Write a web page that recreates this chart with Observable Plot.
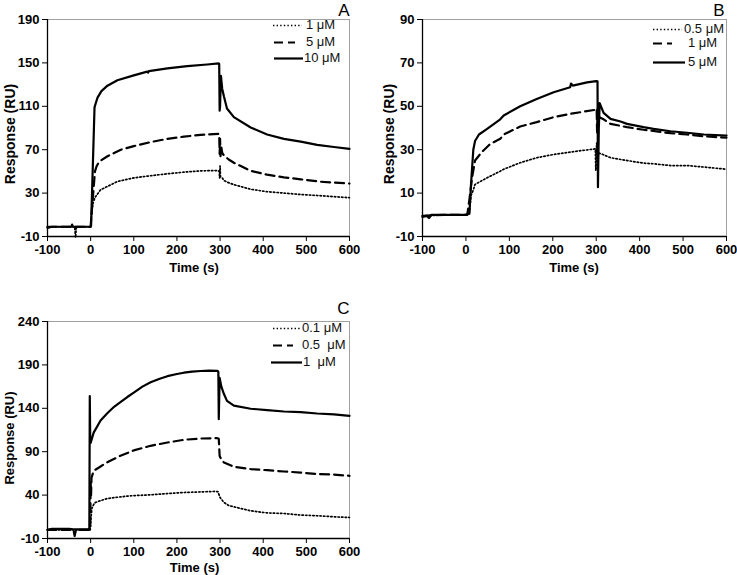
<!DOCTYPE html>
<html><head><meta charset="utf-8">
<script src="https://cdn.jsdelivr.net/npm/d3@7"></script>
<script src="https://cdn.jsdelivr.net/npm/@observablehq/plot@0.6"></script>
<style>
body{margin:0;background:#fff;}
#wrap{position:relative;width:737px;height:575px;overflow:hidden;font-family:"Liberation Sans",Arial,sans-serif;}
.panel{position:absolute;}
.leg{position:absolute;font-size:13px;color:#111;white-space:pre;line-height:16px;height:16px;}
.leg svg{position:absolute;left:0;top:0;}
.leg span{position:absolute;top:0;}
.albl{position:absolute;font-weight:bold;color:#000;white-space:nowrap;line-height:1;transform:translate(-50%,-50%);}
.albl.rot{transform:translate(-50%,-50%) rotate(-90deg);}
</style></head><body><div id="wrap"></div>
<script>
// ---- shared axes ----
const xTicks = [-100, 0, 100, 200, 300, 400, 500, 600];
const xLabel = "Time (s)";
const yLabel = "Response (RU)";

// ---- Panel A ----
const aYTicks = [-10, 30, 70, 110, 150, 190];
const aLegend = ["1 μM", "5 μM", "10 μM"];
const aT1 = [-100,-80,-50,-37,-35,-33,0,2,5,10,23,62,100,139,178,216,255,295,298,299,300,301,305,309,317,332,371,409,448,487,525,564,600];
const aV1 = [-1,-1,-1,-1,-11,-1,-1,10,20,26,33,40.7,44,46,47.8,49.3,50.5,50.8,50,44,55,45,44,41.6,40,37.8,33.5,31.3,30,28.7,27.8,26.7,25.7];
const aT5 = [-100,-60,0,1,7,10,14,20,39,70,100,139,178,216,255,297,298,299,300,301,303,305,309,320,332,371,409,448,487,533,564,600];
const aV5 = [-1,-1,-1,5,35,50,55,59,64,70,73.3,77,80,82,83.7,84.6,84,66,80,64,72,67,64.7,61,58,50.5,47,44.5,42.7,40.5,39.7,38.8];
const aT10 = [-100,-90,-60,-45,-43,-41,0,1,9,12,16,25,39,62,100,131,133,135,178,224,270,297,298,299,300,302,305,309,316,332,371,409,448,487,525,564,600];
const aV10 = [-2,-1,-1,-1,1,-1,-1,0,109,113,118,124,129,134,138.5,142,141,142.5,145,147,148.5,149.5,149,106,110,138,126,119,108,100,90.5,84,80,77.5,74.5,72.5,70.8];

// ---- Panel B ----
const bYTicks = [-10, 10, 30, 50, 70, 90];
const bLegend = ["0.5 μM", "1 μM", "5 μM"];
const bT05 = [-100,-50,0,8,12,17,21,48,79,87,125,163,202,240,298,299,301,303,305,313,333,371,409,432,471,509,548,600];
const bV05 = [-0.5,0,0,1,9,11.5,14,17,20.1,21,24,26.3,27.8,28.9,30.4,20.4,33,21,28.5,28,26.3,25,23.8,23.5,22.7,22.7,22,21];
const bT1 = [-100,-50,0,3,8,14,21,37,56,79,87,125,163,202,240,298,301,302,304,307,317,333,371,409,471,509,548,600];
const bV1 = [-0.5,0,0,0,7,17,25,29,32.7,35,37,40.7,42.7,45,46.5,48.4,49,38,49.6,45,44,41.9,40.4,39.2,37.6,37,36.2,35.5];
const bT5 = [-100,-90,-85,-80,-50,0,8,12,17,21,30,48,79,87,125,163,202,240,242,246,279,300,303,304,306,308,317,333,356,371,409,432,471,509,548,600];
const bV5 = [-1,-0.5,-1.5,0,0,0,0.5,15,30,34,37,39.5,44,45.8,50,53.4,56.5,58.8,60.5,59.5,61,61.6,61.5,12.7,40,51.5,47,44.2,43,41.9,40.4,39.6,38.5,37.8,37,36.5];

// ---- Panel C ----
const cYTicks = [-10, 40, 90, 140, 190, 240];
const cLegend = ["0.1 μM", "0.5  μM", "1  μM"];
const cT01 = [-100,-40,-37,-34,-1,1,3,9,16,38,62,92,139,178,216,286,295,300,309,320,332,371,409,448,487,525,564,600];
const cV01 = [0,0,-6,0,0,15,25,31,32.5,36,37.5,39.2,40.3,41.8,43,44.2,44,37.2,31.5,28,26.5,21.9,19.5,18.8,17,16.2,15,14.2];
const cT05 = [-100,-40,-37,-34,-1,0,1,2,7,23,38,69,100,139,178,216,255,294,297,299,304,309,332,371,409,448,487,525,564,600];
const cV05 = [0,0,-7,0,0,55,40,60,68,73,77.6,85.3,91.5,96.8,100.6,103.7,105.2,105.6,105,85,80,77.6,72.6,70,68.7,67.2,66,64.2,63.7,62.2];
const cT1 = [-100,-90,-50,-40,-3,-2,-1,0,7,23,38,55,69,85,100,120,139,160,178,200,216,235,255,275,294,296,297,299,303,309,316,332,371,409,448,487,525,564,600];
const cV1 = [0,1,1,0.5,0.5,154,105,100,112,126,134,142,147,153,158,165,170,174,177,179.5,181,182.2,183,183.3,183.2,182,127.5,175,165,156.4,148.6,143,139.5,137.9,136.3,135.5,134,133,131.3];

const styles = [
  {strokeWidth: 1.7, strokeDasharray: "1.4,2.2"},
  {strokeWidth: 2.2, strokeDasharray: "9,5"},
  {strokeWidth: 2.2}
];
const toRows = (t, v) => t.map((d, i) => ({t: d, v: v[i]}));

function panel(o) {
  const series = o.series.map(([t, v]) => toRows(t, v));
  const yDomain = [o.yTicks[0], o.yTicks[o.yTicks.length - 1]];
  return Plot.plot({
    width: o.width, height: o.height,
    marginLeft: o.ml, marginRight: o.mr, marginTop: o.mt, marginBottom: o.mb,
    style: {fontFamily: "'Liberation Sans', Arial, sans-serif", fontSize: "13px", fontWeight: "bold", color: "#000", background: "transparent", overflow: "visible"},
    x: {domain: [xTicks[0], xTicks[xTicks.length - 1]]},
    y: {domain: yDomain},
    marks: [
      Plot.frame({stroke: "#a0a0a0", strokeWidth: 1}),
      ...series.map((s, i) => Plot.line(s, {x: "t", y: "v", stroke: "#000", ...styles[i]})),
      Plot.ruleX([xTicks[0]], {stroke: "#000", strokeWidth: 1.3}),
      Plot.ruleY([yDomain[0]], {stroke: "#000", strokeWidth: 1.3}),
      Plot.axisX(xTicks, {tickSize: 5, tickPadding: 3, tickFormat: d => String(d), label: null}),
      Plot.axisY(o.yTicks, {tickSize: 5, tickPadding: 3, tickFormat: d => String(d), label: null}),
      Plot.text([o.letter], {frameAnchor: "top-right", textAnchor: "end", lineAnchor: "bottom", dx: o.ldx, dy: o.ldy, fontSize: 17, fontWeight: "normal", fill: "#000"})
    ]
  });
}

function legend(wrap, labels, rows) {
  rows.forEach((r, i) => {
    const d = document.createElement("div");
    d.className = "leg";
    d.style.left = r.x0 + "px";
    d.style.top = (r.y - 8) + "px";
    d.style.width = "80px";
    const st = styles[i];
    d.innerHTML = `<svg width="${r.x1 - r.x0}" height="16"><line x1="0" x2="${r.x1 - r.x0}" y1="8.5" y2="8.5" stroke="#000" stroke-width="${st.strokeWidth}" ${st.strokeDasharray ? `stroke-dasharray="${st.strokeDasharray}"` : ""}/></svg><span style="left:${r.tx - r.x0}px">${labels[i]}</span>`;
    wrap.appendChild(d);
  });
}

function axisLabel(wrap, text, cx, cy, size, rotated) {
  const d = document.createElement("div");
  d.className = "albl" + (rotated ? " rot" : "");
  d.style.left = cx + "px";
  d.style.top = cy + "px";
  d.style.fontSize = size + "px";
  d.textContent = text;
  wrap.appendChild(d);
}

const wrap = document.getElementById("wrap");
const place = (el, left, top) => { const d = document.createElement("div"); d.className = "panel"; d.style.left = left + "px"; d.style.top = top + "px"; d.appendChild(el); wrap.appendChild(d); };

place(panel({series: [[aT1, aV1], [aT5, aV5], [aT10, aV10]], yTicks: aYTicks, width: 370, height: 285, ml: 47, mr: 21, mt: 19, mb: 49, letter: "A", ldx: 0, ldy: -4}), 0, 0);
place(panel({series: [[bT05, bV05], [bT1, bV1], [bT5, bV5]], yTicks: bYTicks, width: 367, height: 285, ml: 52, mr: 11, mt: 19, mb: 49, letter: "B", ldx: -2, ldy: -4}), 370, 0);
place(panel({series: [[cT01, cV01], [cT05, cV05], [cT1, cV1]], yTicks: cYTicks, width: 370, height: 290, ml: 47, mr: 21, mt: 36, mb: 37, letter: "C", ldx: 0, ldy: -8}), 0, 285);

axisLabel(wrap, xLabel, 194, 267, 13, false);
axisLabel(wrap, xLabel, 574, 267, 13, false);
axisLabel(wrap, xLabel, 194.5, 567, 13, false);
axisLabel(wrap, yLabel, 9.5, 133.5, 14, true);
axisLabel(wrap, yLabel, 388.5, 133.5, 14, true);
axisLabel(wrap, yLabel, 9, 438, 13, true);

legend(wrap, aLegend, [{x0: 273, x1: 302, y: 25, tx: 306}, {x0: 274, x1: 295, y: 42, tx: 306}, {x0: 274, x1: 303, y: 58, tx: 304}]);
legend(wrap, bLegend, [{x0: 653, x1: 682, y: 29, tx: 684}, {x0: 653, x1: 672, y: 43, tx: 688}, {x0: 653, x1: 685, y: 62, tx: 688}]);
legend(wrap, cLegend, [{x0: 273, x1: 300, y: 328, tx: 302}, {x0: 273, x1: 293, y: 345, tx: 302}, {x0: 271, x1: 302, y: 362, tx: 303}]);
</script></body></html>
